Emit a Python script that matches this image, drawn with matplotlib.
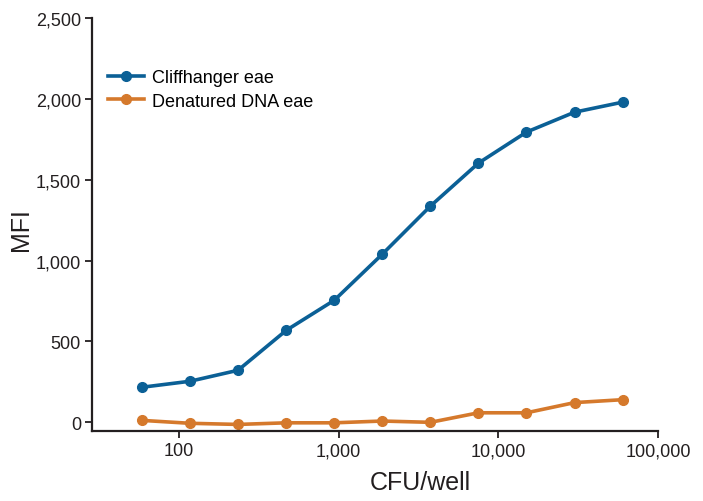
import numpy as np
import matplotlib.pyplot as plt
from matplotlib.ticker import FixedLocator, FuncFormatter, NullLocator

plt.rcParams['font.family'] = ['Liberation Sans', 'DejaVu Sans']

# 2-fold dilution series
cfu = [58.6, 117, 234, 469, 938, 1875, 3750, 7500, 15000, 30000, 60000]
cliffhanger = [217, 254, 322, 569, 755, 1040, 1337, 1603, 1795, 1918, 1980]
denatured = [12, -6, -13, -3, -3, 8, 0, 59, 59, 122, 140]

blue = '#0b6096'
orange = '#d5792c'

fig = plt.figure(figsize=(7.03, 5.02), dpi=100)
ax = fig.add_axes([0.131, 0.139, 0.805, 0.823])

ax.plot(cfu, cliffhanger, color=blue, marker='o', markersize=7, linewidth=2.6,
        label='Cliffhanger eae')
ax.plot(cfu, denatured, color=orange, marker='o', markersize=7, linewidth=2.6,
        label='Denatured DNA eae')

ax.set_xscale('log')
ax.set_xlim(28.5, 100000)
ax.set_ylim(-55, 2500)

ax.xaxis.set_major_locator(FixedLocator([100, 1000, 10000, 100000]))
ax.xaxis.set_minor_locator(NullLocator())
ax.xaxis.set_major_formatter(FuncFormatter(lambda v, p: f'{v:,.0f}'))
ax.yaxis.set_major_locator(FixedLocator([0, 500, 1000, 1500, 2000, 2500]))
ax.yaxis.set_major_formatter(FuncFormatter(lambda v, p: f'{v:,.0f}'))

for s in ['top', 'right']:
    ax.spines[s].set_visible(False)
for s in ['left', 'bottom']:
    ax.spines[s].set_linewidth(1.6)
    ax.spines[s].set_color('#231f20')

ax.tick_params(axis='both', which='major', direction='out', length=5, width=1.3,
               labelsize=13, colors='#231f20', pad=3)

ax.set_xlabel('CFU/well', fontsize=18, color='#231f20')
ax.xaxis.set_label_coords(0.58, -0.095)
ax.set_ylabel('MFI', fontsize=18, color='#231f20')
ax.yaxis.set_label_coords(-0.105, 0.49)

ax.legend(loc='upper left', bbox_to_anchor=(0.0, 0.915), frameon=False,
          fontsize=13, handlelength=2.0, handletextpad=0.4, labelspacing=0.35)

fig.savefig('out.png', dpi=100)
